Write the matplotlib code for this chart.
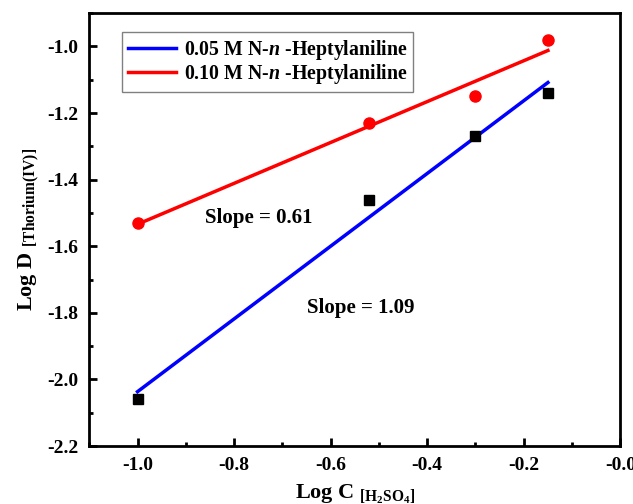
import matplotlib
matplotlib.use('Agg')
import matplotlib.pyplot as plt
import numpy as np

plt.rcParams['font.family'] = 'Liberation Serif'
plt.rcParams['font.weight'] = 'bold'
plt.rcParams['mathtext.fontset'] = 'custom'
plt.rcParams['mathtext.rm'] = 'Liberation Serif'
plt.rcParams['mathtext.it'] = 'Liberation Serif:italic:bold'

# log C [H2SO4]
x = [-1.0, -0.52, -0.30, -0.15]
# log D for the two amine concentrations
y_005 = [-2.06, -1.46, -1.27, -1.14]
y_010 = [-1.53, -1.23, -1.15, -0.98]
labels = ['0.05 M N-$\\mathit{n}$ -Heptylaniline', '0.10 M N-$\\mathit{n}$ -Heptylaniline']

fig = plt.figure(figsize=(6.33, 5.04), dpi=100)
ax = fig.add_axes([0.141, 0.115, 0.839, 0.859])

xs = np.array(x)
p1 = np.polyfit(xs, y_005, 1)
p2 = np.polyfit(xs, y_010, 1)
ax.plot(xs, np.polyval(p1, xs), color='blue', lw=2.5, label=labels[0])
ax.plot(xs, np.polyval(p2, xs), color='red', lw=2.5, label=labels[1])
ax.plot(x, y_005, 's', color='black', ms=7)
ax.plot(x, y_010, 'o', color='red', ms=8)

ax.text(-0.86, -1.515, 'Slope = %.2f' % p2[0], fontsize=15, fontweight='bold', va='center')
ax.text(-0.65, -1.786, 'Slope = %.2f' % p1[0], fontsize=15, fontweight='bold', va='center')

ax.set_xlim(-1.1, 0.0)
ax.set_ylim(-2.2, -0.9)
ax.set_xticks(np.arange(-1.0, 0.01, 0.2))
ax.set_xticks(np.arange(-1.1, 0.0, 0.1), minor=True)
ax.set_yticks(np.arange(-2.2, -0.95, 0.2))
ax.set_yticks(np.arange(-2.1, -0.85, 0.2), minor=True)
ax.set_xticklabels(['%.1f' % v for v in np.arange(-1.0, 0.01, 0.2)])
ax.set_yticklabels(['%.1f' % v for v in np.arange(-2.2, -0.95, 0.2)])
ax.tick_params(which='both', direction='in', labelsize=14, width=2, top=False, right=False)
ax.tick_params(which='major', length=6, pad=8)
ax.tick_params(which='minor', length=3)
for s in ax.spines.values():
    s.set_linewidth(2)

ax.set_xlabel('Log C $_{\\mathrm{[H_2SO_4]}}$', fontsize=16, fontweight='bold', labelpad=6)
ax.set_ylabel('Log D $_{\\mathrm{[Thorium(IV)]}}$', fontsize=16, fontweight='bold', labelpad=4)

leg = ax.legend(loc='upper left', bbox_to_anchor=(0.062, 0.956), borderaxespad=0, fontsize=14.3,
                fancybox=False, edgecolor='gray', framealpha=1, handlelength=2.4,
                handletextpad=0.4, borderpad=0.3, labelspacing=0.0)
leg.get_frame().set_linewidth(1)

plt.savefig('out.png', dpi=100)
